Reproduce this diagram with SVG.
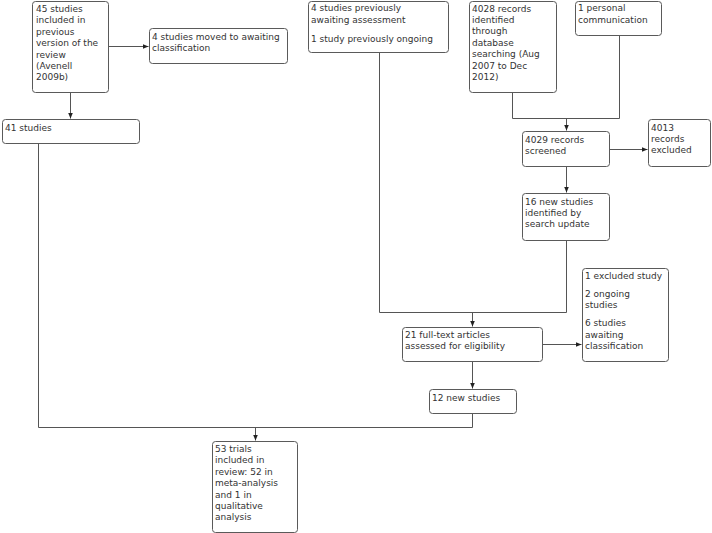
<svg xmlns="http://www.w3.org/2000/svg" width="712" height="533" viewBox="0 0 712 533">
<style>
.box{fill:#fff;stroke:#5a5a5a;stroke-width:1}
.t{font-family:"DejaVu Sans",Verdana,sans-serif;font-size:9px;fill:#333}
.c{fill:none;stroke:#555;stroke-width:1}
</style>
<defs>
<marker id="a" viewBox="0 0 6 6" refX="6" refY="3" markerWidth="6" markerHeight="6" orient="auto" markerUnits="userSpaceOnUse">
<path d="M0,0.5 L6,3 L0,5.5 z" fill="#222"/>
</marker>
</defs>
<rect width="712" height="533" fill="#fff"/>
<g id="connectors">
<path class="c" d="M70.5,92 V118.5" marker-end="url(#a)"/>
<path class="c" d="M108,46.5 H148.5" marker-end="url(#a)"/>
<path class="c" d="M38.5,143 V427.5 H472.5"/>
<path class="c" d="M255.5,427.5 V440.5" marker-end="url(#a)"/>
<path class="c" d="M379.5,52 V312.5 H566.5"/>
<path class="c" d="M512.5,92 V118.5 H619.5 V35"/>
<path class="c" d="M566.5,118.5 V130.5" marker-end="url(#a)"/>
<path class="c" d="M609,149.5 H647.5" marker-end="url(#a)"/>
<path class="c" d="M566.5,166 V192.5" marker-end="url(#a)"/>
<path class="c" d="M566.5,240 V312.5"/>
<path class="c" d="M472.5,312.5 V326.5" marker-end="url(#a)"/>
<path class="c" d="M542,344.5 H581.5" marker-end="url(#a)"/>
<path class="c" d="M472.5,361 V388.5" marker-end="url(#a)"/>
<path class="c" d="M472.5,413 V427.5"/>
</g>
<g id="n1"><rect class="box" x="32.5" y="1.5" width="76" height="91" rx="3"/>
<text class="t" x="36" y="12">45 studies<tspan x="36" dy="11.4">included in</tspan><tspan x="36" dy="11.4">previous</tspan><tspan x="36" dy="11.4">version of the</tspan><tspan x="36" dy="11.4">review</tspan><tspan x="36" dy="11.4">(Avenell</tspan><tspan x="36" dy="11.4">2009b)</tspan></text></g>
<g id="n2"><rect class="box" x="149.5" y="28.5" width="138" height="35" rx="3"/>
<text class="t" x="152" y="39.5">4 studies moved to awaiting<tspan x="152" dy="11.4">classification</tspan></text></g>
<g id="n3"><rect class="box" x="2.5" y="119.5" width="137" height="24" rx="3"/>
<text class="t" x="5" y="131">41 studies</text></g>
<g id="n4"><rect class="box" x="308.5" y="1.5" width="140" height="51" rx="3"/>
<text class="t" x="311" y="11">4 studies previously<tspan x="311" dy="11.6">awaiting assessment</tspan><tspan x="311" dy="19.3">1 study previously ongoing</tspan></text></g>
<g id="n5"><rect class="box" x="469.5" y="1.5" width="87" height="91" rx="3"/>
<text class="t" x="472" y="11.5">4028 records<tspan x="472" dy="11.4">identified</tspan><tspan x="472" dy="11.4">through</tspan><tspan x="472" dy="11.4">database</tspan><tspan x="472" dy="11.4">searching (Aug</tspan><tspan x="472" dy="11.4">2007 to Dec</tspan><tspan x="472" dy="11.4">2012)</tspan></text></g>
<g id="n6"><rect class="box" x="575.5" y="1.5" width="86" height="34" rx="3"/>
<text class="t" x="578" y="11">1 personal<tspan x="578" dy="11.6">communication</tspan></text></g>
<g id="n7"><rect class="box" x="522.5" y="131.5" width="87" height="35" rx="3"/>
<text class="t" x="525" y="142.5">4029 records<tspan x="525" dy="11.4">screened</tspan></text></g>
<g id="n8"><rect class="box" x="648.5" y="119.5" width="62" height="47" rx="3"/>
<text class="t" x="651" y="130.5">4013<tspan x="651" dy="11.4">records</tspan><tspan x="651" dy="11.4">excluded</tspan></text></g>
<g id="n9"><rect class="box" x="522.5" y="193.5" width="87" height="47" rx="3"/>
<text class="t" x="525" y="204.5">16 new studies<tspan x="525" dy="11.4">identified by</tspan><tspan x="525" dy="11.4">search update</tspan></text></g>
<g id="n10"><rect class="box" x="402.5" y="327.5" width="140" height="34" rx="3"/>
<text class="t" x="405" y="338">21 full-text articles<tspan x="405" dy="11.4">assessed for eligibility</tspan></text></g>
<g id="n11"><rect class="box" x="582.5" y="268.5" width="86" height="93" rx="3"/>
<text class="t" x="585" y="279">1 excluded study<tspan x="585" dy="18">2 ongoing</tspan><tspan x="585" dy="11.4">studies</tspan><tspan x="585" dy="18">6 studies</tspan><tspan x="585" dy="11.4">awaiting</tspan><tspan x="585" dy="11.4">classification</tspan></text></g>
<g id="n12"><rect class="box" x="429.5" y="389.5" width="87" height="24" rx="3"/>
<text class="t" x="432" y="400.5">12 new studies</text></g>
<g id="n13"><rect class="box" x="212.5" y="441.5" width="85" height="91" rx="3"/>
<text class="t" x="215" y="452">53 trials<tspan x="215" dy="11.4">included in</tspan><tspan x="215" dy="11.4">review: 52 in</tspan><tspan x="215" dy="11.4">meta-analysis</tspan><tspan x="215" dy="11.4">and 1 in</tspan><tspan x="215" dy="11.4">qualitative</tspan><tspan x="215" dy="11.4">analysis</tspan></text></g>
</svg>
